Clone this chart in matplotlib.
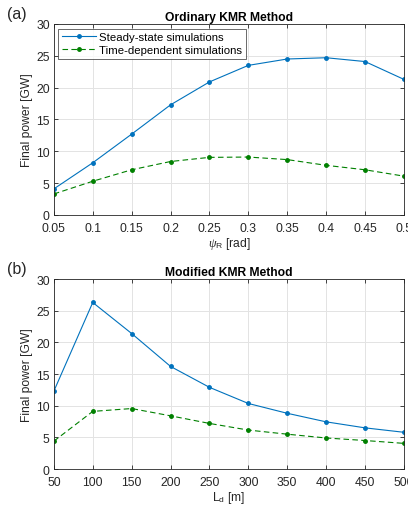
import matplotlib
matplotlib.use('Agg')
import matplotlib.pyplot as plt
import numpy as np

plt.rcParams['font.family'] = ['Liberation Sans', 'DejaVu Sans']
plt.rcParams['mathtext.fontset'] = 'custom'
plt.rcParams['mathtext.it'] = 'Liberation Serif:italic'
plt.rcParams['mathtext.rm'] = 'Liberation Sans'

# data
psi_r = [0.05, 0.1, 0.15, 0.2, 0.25, 0.3, 0.35, 0.4, 0.45, 0.5]
ord_steady = [4.1, 8.2, 12.7, 17.3, 20.9, 23.5, 24.5, 24.7, 24.1, 21.3]
ord_time = [3.3, 5.3, 7.1, 8.4, 9.05, 9.1, 8.7, 7.8, 7.1, 6.1]

l_d = [50, 100, 150, 200, 250, 300, 350, 400, 450, 500]
mod_steady = [12.3, 26.3, 21.4, 16.2, 12.9, 10.35, 8.8, 7.45, 6.5, 5.8]
mod_time = [4.4, 9.1, 9.55, 8.4, 7.2, 6.15, 5.5, 4.9, 4.5, 4.05]

blue = '#0072BD'
green = '#008000'
fs = 8.7

fig = plt.figure(figsize=(4.08, 5.10), dpi=100)
ax1 = fig.add_axes([0.132, 0.5765, 0.858, 0.3745])
ax2 = fig.add_axes([0.132, 0.0784, 0.858, 0.3725])


def style_axes(ax, xticks, xlabels):
    ax.set_ylim(0, 30)
    ax.set_yticks(np.arange(0, 31, 5))
    ax.set_xticks(xticks)
    ax.set_xticklabels(xlabels)
    ax.grid(True, color='#e3e3e3', linewidth=0.7)
    ax.set_axisbelow(True)
    ax.tick_params(direction='in', top=True, right=True, labelsize=fs,
                   length=3, width=0.6, colors='#262626')
    ax.tick_params(axis='x', pad=5)
    ax.tick_params(axis='y', pad=3)
    for s in ax.spines.values():
        s.set_color('#262626')
        s.set_linewidth(0.6)
    ax.set_ylabel('Final power [GW]', fontsize=fs, color='#262626', labelpad=2)


ax1.plot(psi_r, ord_steady, '-', color=blue, marker='o', markersize=2.5,
         linewidth=0.8, label='Steady-state simulations')
ax1.plot(psi_r, ord_time, '--', color=green, marker='o', markersize=2.5,
         linewidth=0.8, dashes=(5, 3), label='Time-dependent simulations')
ax1.set_xlim(0.05, 0.5)
style_axes(ax1, psi_r, ['0.05', '0.1', '0.15', '0.2', '0.25', '0.3',
                        '0.35', '0.4', '0.45', '0.5'])
ax1.set_xlabel(r'$\psi_{\rm R}$ [rad]', fontsize=fs, color='#262626', labelpad=1)
ax1.set_title('Ordinary KMR Method', fontsize=fs, fontweight='bold', pad=3)
leg = ax1.legend(loc='upper left', fontsize=8.2, frameon=True, fancybox=False,
                 edgecolor='#262626', handlelength=3.0, handletextpad=0.3,
                 borderpad=0.3, labelspacing=0.3, borderaxespad=0.4)
leg.get_frame().set_linewidth(0.6)
fig.text(0.018, 0.962, '(a)', fontsize=11.5, color='#262626')

ax2.plot(l_d, mod_steady, '-', color=blue, marker='o', markersize=2.5,
         linewidth=0.8)
ax2.plot(l_d, mod_time, '--', color=green, marker='o', markersize=2.5,
         linewidth=0.8, dashes=(5, 3))
ax2.set_xlim(50, 500)
style_axes(ax2, l_d, [str(v) for v in l_d])
ax2.set_xlabel(r'L$_{\rm d}$ [m]', fontsize=fs, color='#262626', labelpad=1)
ax2.set_title('Modified KMR Method', fontsize=fs, fontweight='bold', pad=3)
fig.text(0.018, 0.462, '(b)', fontsize=11.5, color='#262626')

fig.savefig('out.png', dpi=100)
